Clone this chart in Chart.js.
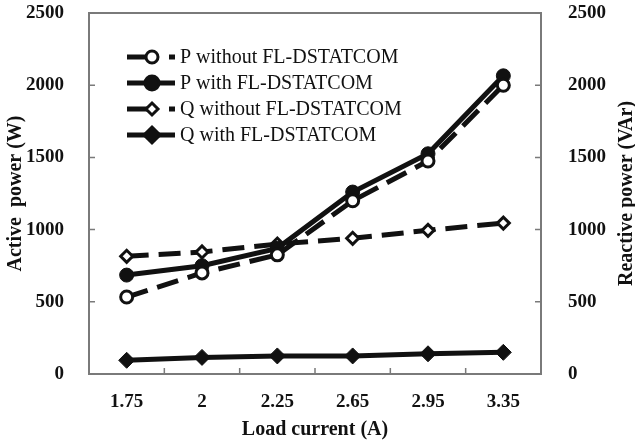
<!DOCTYPE html>
<html>
<head>
<meta charset="utf-8">
<script src="https://cdn.jsdelivr.net/npm/chart.js@4"></script>
<style>
  html, body { margin: 0; padding: 0; background: #fff; }
  #wrap { width: 635px; height: 443px; }
</style>
</head>
<body>
<div id="wrap"><canvas id="powerChart" width="635" height="443"></canvas></div>
<script>
// load current categories and measured powers
const loadCurrent = ['1.75', '2', '2.25', '2.65', '2.95', '3.35'];
const pWithout = [533, 700, 825, 1200, 1475, 2000];
const pWith = [685, 750, 870, 1260, 1525, 2065];
const qWithout = [815, 845, 900, 940, 995, 1045];
const qWith = [95, 115, 125, 125, 140, 150];
const yTicks = [0, 500, 1000, 1500, 2000, 2500];

const serif = '"Liberation Serif", "Times New Roman", serif';
const tickFont = { family: serif, size: 19, weight: 'bold' };

// frame, inward tick marks, y titles and the legend inside the plot
const framePlugin = {
    id: 'frame',
    afterDraw(chart) {
        const ctx = chart.ctx;
        const a = chart.chartArea;
        ctx.save();
        ctx.strokeStyle = '#7a7a7a';
        ctx.lineWidth = 2;
        ctx.strokeRect(a.left, a.top, a.right - a.left, a.bottom - a.top);

        ctx.lineWidth = 1.5;
        ctx.beginPath();
        chart.scales.y.ticks.forEach((t, i) => {
            const py = chart.scales.y.getPixelForTick(i);
            ctx.moveTo(a.left, py); ctx.lineTo(a.left + 6, py);
        });
        chart.scales.y1.ticks.forEach((t, i) => {
            const py = chart.scales.y1.getPixelForTick(i);
            ctx.moveTo(a.right, py); ctx.lineTo(a.right - 6, py);
        });
        const xs = chart.scales.x;
        for (let i = 1; i < loadCurrent.length; i++) {
            const px = (xs.getPixelForValue(i - 1) + xs.getPixelForValue(i)) / 2;
            ctx.moveTo(px, a.bottom); ctx.lineTo(px, a.bottom - 6);
        }
        ctx.stroke();

        // axis titles, both reading bottom to top
        const midY = (a.top + a.bottom) / 2;
        ctx.fillStyle = '#111';
        ctx.font = 'bold 20px ' + serif;
        ctx.textAlign = 'center';
        ctx.textBaseline = 'middle';
        [[16, 'Active  power (W)'], [627, 'Reactive power (VAr)']].forEach(([tx, txt]) => {
            ctx.save();
            ctx.translate(tx, midY);
            ctx.rotate(-Math.PI / 2);
            ctx.fillText(txt, 0, 0);
            ctx.restore();
        });

        // legend
        const x0 = a.left + 38, rowY = a.top + 44, gap = 26;
        ctx.font = '20px ' + serif;
        ctx.textAlign = 'left';
        chart.data.datasets.forEach((ds, i) => {
            const y = rowY + i * gap;
            ctx.strokeStyle = '#111';
            ctx.lineWidth = 5;
            ctx.setLineDash(ds.borderDash ? [30, 12] : []);
            ctx.beginPath();
            ctx.moveTo(x0, y); ctx.lineTo(x0 + 48, y);
            ctx.stroke();
            ctx.setLineDash([]);
            const cx = x0 + 25;
            ctx.fillStyle = ds.pointBackgroundColor;
            ctx.lineWidth = 3;
            ctx.beginPath();
            if (ds.pointStyle === 'circle') {
                ctx.arc(cx, y, ds.pointRadius, 0, Math.PI * 2);
            } else {
                const r = ds.pointRadius;
                ctx.moveTo(cx, y - r); ctx.lineTo(cx + r, y);
                ctx.lineTo(cx, y + r); ctx.lineTo(cx - r, y); ctx.closePath();
            }
            ctx.fill(); ctx.stroke();
            ctx.fillStyle = '#111';
            ctx.fillText(ds.label, x0 + 53, y + 1);
        });
        ctx.restore();
    }
};

const ctx = document.getElementById('powerChart').getContext('2d');
const myChart = new Chart(ctx, {
    type: 'line',
    data: {
        labels: loadCurrent,
        datasets: [{
            label: 'P without FL-DSTATCOM',
            data: pWithout,
            yAxisID: 'y',
            borderColor: '#111',
            borderWidth: 5,
            borderDash: [22, 10],
            pointStyle: 'circle',
            pointRadius: 6,
            pointBorderWidth: 3,
            pointBackgroundColor: '#fff',
            pointBorderColor: '#111'
        }, {
            label: 'P with FL-DSTATCOM',
            data: pWith,
            yAxisID: 'y',
            borderColor: '#111',
            borderWidth: 5,
            pointStyle: 'circle',
            pointRadius: 7,
            pointBorderWidth: 1,
            pointBackgroundColor: '#111',
            pointBorderColor: '#111'
        }, {
            label: 'Q without FL-DSTATCOM',
            data: qWithout,
            yAxisID: 'y1',
            borderColor: '#111',
            borderWidth: 5,
            borderDash: [22, 10],
            pointStyle: 'rectRot',
            pointRadius: 6,
            pointBorderWidth: 3,
            pointBackgroundColor: '#fff',
            pointBorderColor: '#111'
        }, {
            label: 'Q with FL-DSTATCOM',
            data: qWith,
            yAxisID: 'y1',
            borderColor: '#111',
            borderWidth: 5,
            pointStyle: 'rectRot',
            pointRadius: 8,
            pointBorderWidth: 1,
            pointBackgroundColor: '#111',
            pointBorderColor: '#111'
        }]
    },
    options: {
        responsive: false,
        animation: false,
        layout: { padding: { top: 13, left: 0, right: 0, bottom: 0 } },
        scales: {
            x: {
                offset: true,
                grid: { display: false },
                border: { display: false },
                ticks: { color: '#111', padding: 9, font: tickFont },
                title: { display: true, text: 'Load current (A)', color: '#111', padding: { top: 4, bottom: 1 }, font: { family: serif, size: 20, weight: 'bold' } },
                afterFit: s => { s.height = 69; s.paddingLeft = 0; s.paddingRight = 0; }
            },
            y: {
                position: 'left',
                min: 0, max: 2500,
                afterBuildTicks: s => { s.ticks = yTicks.map(v => ({ value: v })); },
                grid: { display: false },
                border: { display: false },
                ticks: { color: '#111', padding: 17, font: tickFont, callback: v => String(v) },
                afterFit: s => { s.width = 89; s.paddingTop = 0; s.paddingBottom = 0; }
            },
            y1: {
                position: 'right',
                min: 0, max: 2500,
                afterBuildTicks: s => { s.ticks = yTicks.map(v => ({ value: v })); },
                grid: { display: false },
                border: { display: false },
                ticks: { color: '#111', padding: 19, font: tickFont, callback: v => String(v) },
                afterFit: s => { s.width = 94; s.paddingTop = 0; s.paddingBottom = 0; }
            }
        },
        plugins: {
            legend: { display: false },
            tooltip: { enabled: false }
        }
    },
    plugins: [framePlugin]
});
</script>
</body>
</html>
